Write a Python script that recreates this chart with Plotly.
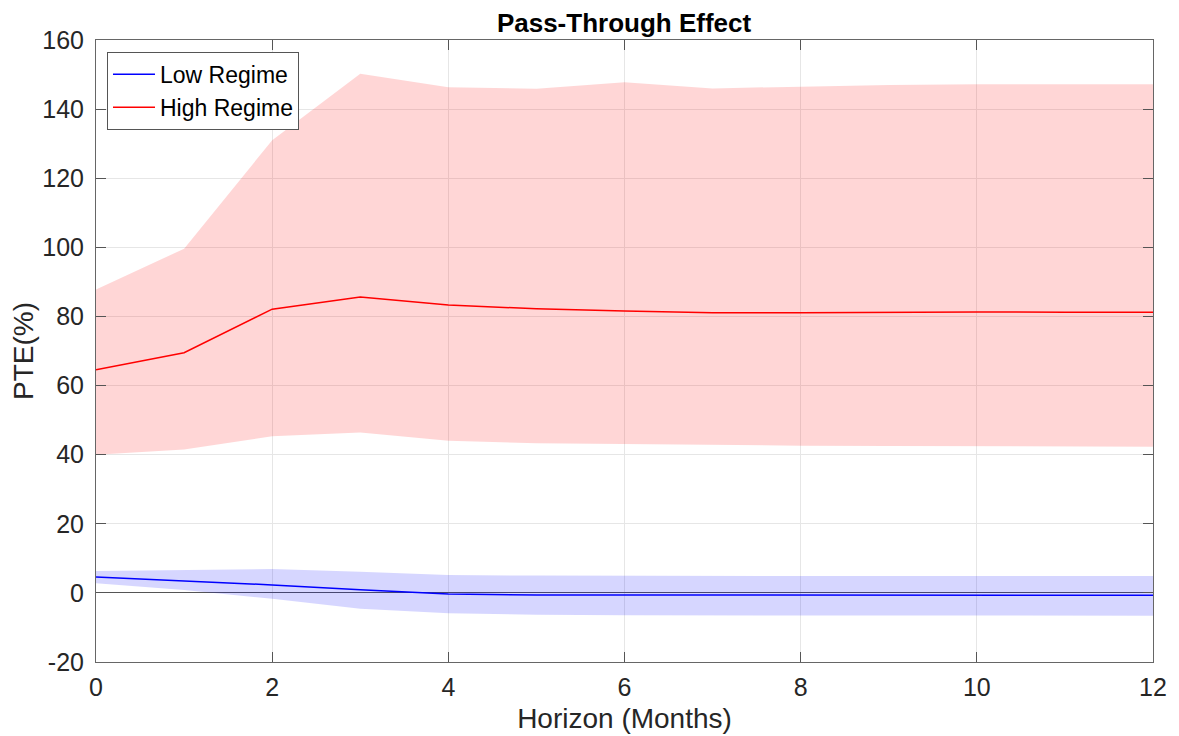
import plotly.graph_objects as go

horizon = list(range(13))

high_mean = [64.6, 69.5, 82.1, 85.6, 83.3, 82.2, 81.6, 81.1, 81.1, 81.3, 81.3, 81.2, 81.2]
high_upper = [87.8, 99.6, 131.0, 150.2, 146.3, 145.9, 147.8, 146.0, 146.5, 147.0, 147.2, 147.2, 147.2]
high_lower = [40.0, 41.5, 45.3, 46.4, 44.0, 43.3, 43.2, 42.8, 42.6, 42.5, 42.4, 42.3, 42.3]

low_mean = [4.6, 3.5, 2.3, 0.9, -0.3, -0.6, -0.6, -0.6, -0.6, -0.6, -0.6, -0.6, -0.7]
low_upper = [6.3, 6.6, 6.9, 6.1, 5.2, 5.0, 4.9, 4.9, 4.9, 4.9, 4.9, 4.9, 4.9]
low_lower = [2.8, 0.8, -1.7, -4.6, -5.9, -6.3, -6.5, -6.6, -6.6, -6.6, -6.6, -6.6, -6.6]

x_ticks = [0, 2, 4, 6, 8, 10, 12]
y_ticks = [-20, 0, 20, 40, 60, 80, 100, 120, 140, 160]
y_tick_labels = ["-20", "0", "20", "40", "60", "80", "100", "120", "140", "160"]

FONT = "Liberation Sans, Arial, Helvetica, sans-serif"

fig = go.Figure()

# confidence bands
fig.add_trace(go.Scatter(
    x=horizon + horizon[::-1], y=high_upper + high_lower[::-1],
    fill="toself", fillcolor="rgba(255,0,0,0.16)", line=dict(width=0),
    mode="lines", showlegend=False, hoverinfo="skip"))
fig.add_trace(go.Scatter(
    x=horizon + horizon[::-1], y=low_upper + low_lower[::-1],
    fill="toself", fillcolor="rgba(0,0,255,0.16)", line=dict(width=0),
    mode="lines", showlegend=False, hoverinfo="skip"))

# mean lines
fig.add_trace(go.Scatter(x=horizon, y=low_mean, mode="lines", name="Low Regime",
                         line=dict(color="#0000ff", width=1.5)))
fig.add_trace(go.Scatter(x=horizon, y=high_mean, mode="lines", name="High Regime",
                         line=dict(color="#ff0000", width=1.5)))

axis_common = dict(
    showline=True, mirror="ticks", linecolor="#666666", linewidth=1,
    ticks="inside", ticklen=10, tickcolor="#555555",
    showgrid=True, gridcolor="#e6e6e6", gridwidth=1,
    automargin=False,
    tickfont=dict(family=FONT, size=25, color="#262626"),
)

fig.update_layout(
    width=1179, height=736,
    margin=dict(l=88, r=34, t=32, b=82),
    paper_bgcolor="white", plot_bgcolor="white",
    title=dict(text="<b>Pass-Through Effect</b>", x=616 / 1179, xanchor="center",
               y=1 - 15 / 736, yanchor="middle", yref="container",
               font=dict(family=FONT, size=26, color="black")),
    xaxis=dict(range=[0, 12], tickvals=x_ticks, zeroline=False,
               ticklabelstandoff=3,
               title=dict(text="Horizon (Months)", standoff=8,
                          font=dict(family=FONT, size=28, color="#262626")),
               **axis_common),
    yaxis=dict(range=[-20, 160], tickvals=y_ticks, ticktext=y_tick_labels,
               zeroline=True, zerolinecolor="#555555", zerolinewidth=1,
               ticklabelstandoff=6,
               title=dict(text="PTE(%)", standoff=6,
                          font=dict(family=FONT, size=28, color="#262626")),
               **axis_common),
    legend=dict(x=0.0104, y=0.981, xanchor="left", yanchor="top",
                bgcolor="white", bordercolor="#555555", borderwidth=1,
                font=dict(family=FONT, size=23, color="black"),
                itemwidth=42, tracegroupgap=0),
    showlegend=True,
)

fig.write_html("out.html")
